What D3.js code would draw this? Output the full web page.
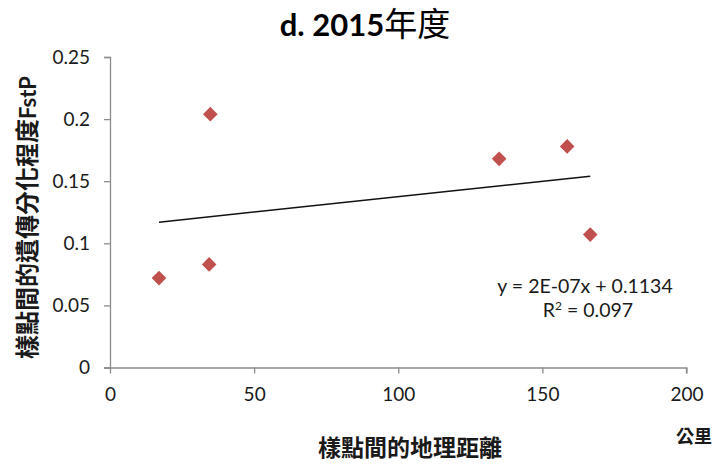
<!DOCTYPE html>
<html>
<head>
<meta charset="utf-8">
<script src="https://cdn.jsdelivr.net/npm/d3@7"></script>
<style>
  html, body { margin: 0; padding: 0; background: #fff; }
  svg { display: block; }
</style>
</head>
<body>
<svg id="chart" width="720" height="464"></svg>
<script>
// Pairwise geographic distance (km) vs. genetic differentiation (FstP), 2015
const distanceKm = [17.0, 34.8, 34.4, 135.0, 158.6, 166.6];
const fstP       = [0.072, 0.204, 0.083, 0.168, 0.178, 0.107];
const xTicks = [0, 50, 100, 150, 200];
const yTicks = [0, 0.05, 0.1, 0.15, 0.2, 0.25];
const yTickLabels = ["0", "0.05", "0.1", "0.15", "0.2", "0.25"];
const titleMain = "d. 2015";
const titleCJK = "年度";
const xLabel = "樣點間的地理距離";
const xUnit = "公里";
const yLabelCJK = "樣點間的遺傳分化程度";
const yLabelLatin = "FstP";
const eqLine = "y = 2E-07x + 0.1134";
const r2Label = "0.097";

const svg = d3.select("#chart");
const plotLeft = 110, plotRight = 686.5, plotTop = 57, plotBottom = 367.5;

const x = d3.scaleLinear().domain([0, 200]).range([plotLeft, plotRight]);
const y = d3.scaleLinear().domain([0, 0.25]).range([plotBottom, plotTop]);

const latin = "Lato, 'Open Sans', sans-serif";
const cjk = "'Noto Sans CJK TC', 'Noto Sans CJK SC', sans-serif";
const axisColor = "#8c8c8c";
const textColor = "#1a1a1a";

// Y axis
const yAxis = svg.append("g")
  .attr("transform", `translate(${plotLeft},0)`)
  .call(d3.axisLeft(y).tickValues(yTicks).tickSize(6).tickPadding(14)
    .tickFormat((d, i) => yTickLabels[i]));
yAxis.select(".domain").attr("stroke", axisColor).attr("stroke-width", 1.3);
yAxis.selectAll(".tick line").attr("stroke", axisColor).attr("stroke-width", 1.3);
yAxis.selectAll(".tick text")
  .attr("font-family", latin).attr("font-size", 19).attr("fill", textColor);

// X axis
const xAxis = svg.append("g")
  .attr("transform", `translate(0,${plotBottom})`)
  .call(d3.axisBottom(x).tickValues(xTicks).tickSize(6).tickPadding(14)
    .tickFormat(d3.format("d")));
xAxis.select(".domain").attr("stroke", axisColor).attr("stroke-width", 1.3)
  .attr("d", `M${plotLeft - 6},0.5H${plotRight}V6`);
xAxis.selectAll(".tick line").attr("stroke", axisColor).attr("stroke-width", 1.3);
xAxis.selectAll(".tick text")
  .attr("font-family", latin).attr("font-size", 19).attr("fill", textColor);

// Least-squares trend line over the data range
const n = distanceKm.length;
const mx = d3.mean(distanceKm), my = d3.mean(fstP);
let sxy = 0, sxx = 0;
for (let i = 0; i < n; i++) {
  sxy += (distanceKm[i] - mx) * (fstP[i] - my);
  sxx += (distanceKm[i] - mx) ** 2;
}
const slope = sxy / sxx, intercept = my - slope * mx;
const [x0, x1] = d3.extent(distanceKm);
svg.append("line")
  .attr("x1", x(x0)).attr("y1", y(intercept + slope * x0))
  .attr("x2", x(x1)).attr("y2", y(intercept + slope * x1))
  .attr("stroke", "#111").attr("stroke-width", 1.5);

// Diamond markers
const r = 7.3;
svg.append("g").selectAll("path")
  .data(d3.range(n))
  .join("path")
  .attr("transform", i => `translate(${x(distanceKm[i])},${y(fstP[i])})`)
  .attr("d", `M0,${-r}L${r},0L0,${r}L${-r},0Z`)
  .attr("fill", "#c0504d");

// Title
const title = svg.append("text")
  .attr("x", 365).attr("y", 36).attr("text-anchor", "middle")
  .attr("fill", "#000");
title.append("tspan").attr("font-family", latin).attr("font-weight", "bold")
  .attr("font-size", 31).text(titleMain);
title.append("tspan").attr("font-family", cjk).attr("font-weight", "normal")
  .attr("font-size", 33).text(titleCJK);

// Axis titles
svg.append("text")
  .attr("x", 410).attr("y", 456).attr("text-anchor", "middle")
  .attr("font-family", cjk).attr("font-weight", "bold").attr("font-size", 23)
  .attr("fill", textColor).text(xLabel);

svg.append("text")
  .attr("x", 694).attr("y", 443).attr("text-anchor", "middle")
  .attr("font-family", cjk).attr("font-weight", "bold").attr("font-size", 18)
  .attr("fill", textColor).text(xUnit);

const yl = svg.append("text")
  .attr("transform", "translate(36,217.5) rotate(-90)")
  .attr("text-anchor", "middle").attr("fill", textColor);
yl.append("tspan").attr("font-family", cjk).attr("font-weight", "bold")
  .attr("font-size", 24).text(yLabelCJK);
yl.append("tspan").attr("font-family", latin).attr("font-weight", "bold")
  .attr("font-size", 22).text(yLabelLatin);

// Regression equation
svg.append("text")
  .attr("x", 585).attr("y", 293).attr("text-anchor", "middle")
  .attr("font-family", latin).attr("font-size", 19.5).attr("fill", textColor)
  .text(eqLine);
const r2 = svg.append("text")
  .attr("x", 588).attr("y", 317).attr("text-anchor", "middle")
  .attr("font-family", latin).attr("font-size", 19.5).attr("fill", textColor);
r2.append("tspan").text("R");
r2.append("tspan").attr("font-size", 12).attr("dy", -7).text("2");
r2.append("tspan").attr("dy", 7).text(" = " + r2Label);
</script>
</body>
</html>
